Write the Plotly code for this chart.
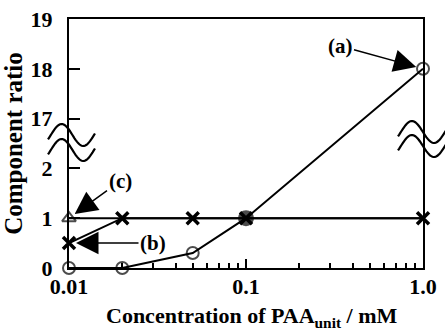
import numpy as np
import plotly.graph_objects as go

# ---- data ----
conc = [0.01, 0.02, 0.05, 0.1, 1.0]
ratio_a = [0, 0, 0.3, 1, 18]
ratio_b = [0.5, 1, 1, 1, 1]
ratio_c = [1, 1, 1, 1, 1]
ytick_vals_real = [0, 1, 2, 17, 18, 19]
xtick_vals = [0.01, 0.1, 1.0]
xtick_text = ["0.01", "0.1", "1.0"]
minor_vals = [0.02, 0.03, 0.04, 0.05, 0.06, 0.07, 0.08, 0.09,
              0.2, 0.3, 0.4, 0.5, 0.6, 0.7, 0.8, 0.9]

BREAK_LO, BREAK_HI = 2, 17   # broken y axis: 17 is drawn at position 3


def ymap(v):
    return v if v <= BREAK_LO else v - (BREAK_HI - BREAK_LO - 1)


FONT = "Liberation Serif"
fig = go.Figure()

fig.add_trace(go.Scatter(
    x=conc, y=[ymap(v) for v in ratio_a], mode="lines+markers",
    line=dict(color="black", width=2),
    marker=dict(symbol=["circle-open"] * 3 + ["circle"] + ["circle-open"],
                size=[12, 12, 12, 14, 12], color="black",
                line=dict(color="black", width=2)),
    cliponaxis=False, showlegend=False))

fig.add_trace(go.Scatter(
    x=conc, y=[ymap(v) for v in ratio_c], mode="lines+markers",
    line=dict(color="black", width=2),
    marker=dict(symbol="triangle-up-open", size=[12, 0, 0, 0, 0], color="black",
                line=dict(color="black", width=2)),
    cliponaxis=False, showlegend=False))

fig.add_trace(go.Scatter(
    x=conc, y=[ymap(v) for v in ratio_b], mode="lines+markers",
    line=dict(color="black", width=2),
    marker=dict(symbol="x-thin", size=12, color="black",
                line=dict(color="black", width=3.5)),
    cliponaxis=False, showlegend=False))

# ---- axis break wavy lines (decoration, paper coords) ----
PW, PH = 354.0, 249.0


def wave(px0, px1, pyc, amp):
    t = np.linspace(0, 1, 40)
    xs = px0 + t * (px1 - px0)
    ys = pyc - amp * np.cos(2 * np.pi * (t - 0.29) / 0.92)
    pts = [((x - 69) / PW, (268 - y) / PH) for x, y in zip(xs, ys)]
    return "M " + " L ".join(f"{a:.4f},{b:.4f}" for a, b in pts)


for (x0, x1, c1, c2) in [(48, 95, 135, 150), (398, 446, 132, 146)]:
    for c in (c1, c2):
        fig.add_shape(type="path", path=wave(x0, x1, c, 11), xref="paper",
                      yref="paper", line=dict(color="black", width=2.2))

# ---- annotations ----
ann_font = dict(family=FONT, size=21, color="black")
arrow = dict(showarrow=True, arrowhead=2, arrowsize=3, arrowwidth=1.5,
             arrowcolor="black", standoff=7)
fig.add_annotation(x=np.log10(1.0), y=ymap(18), text="<b>(a)</b>", ax=-83, ay=-23,
                   font=ann_font, **arrow)
fig.add_annotation(x=np.log10(0.01), y=ymap(0.5), text="<b>(b)</b>", ax=84, ay=0,
                   font=ann_font, **arrow)
fig.add_annotation(x=np.log10(0.01), y=ymap(1), text="<b>(c)</b>", ax=51, ay=-37,
                   font=ann_font, **arrow)

# x-axis title
fig.add_annotation(x=0.517, y=-0.197, xref="paper", yref="paper",
                   text="<b>Concentration of PAA<sub>unit</sub> / mM</b>",
                   showarrow=False, xanchor="center", yanchor="middle",
                   font=dict(family=FONT, size=22, color="black"))

tick_font = dict(family=FONT, size=22, color="black")
fig.update_layout(
    width=445, height=333,
    margin=dict(l=69, r=22, t=19, b=65, autoexpand=False),
    plot_bgcolor="white", paper_bgcolor="white",
    font=dict(family=FONT, color="black"),
    xaxis=dict(type="log", range=[-2, 0], tickvals=xtick_vals,
               ticktext=[f"<b>{t}</b>" for t in xtick_text],
               ticks="inside", ticklen=9, tickwidth=1.5, tickcolor="black",
               minor=dict(tickvals=minor_vals, ticks="inside", ticklen=5,
                          tickwidth=1.5, tickcolor="black"),
               showline=True, linecolor="black", linewidth=2, mirror=True,
               showgrid=False, zeroline=False, tickfont=tick_font,
               ticklabelstandoff=-2, automargin=False),
    yaxis=dict(range=[0, 5], tickvals=[ymap(v) for v in ytick_vals_real],
               ticktext=[f"<b>{v}</b>" for v in ytick_vals_real],
               ticks="inside", ticklen=11, tickwidth=1.5, tickcolor="black",
               showline=True, linecolor="black", linewidth=2, mirror=True,
               showgrid=False, zeroline=False, tickfont=tick_font,
               ticklabelstandoff=10, automargin=False,
               title=dict(text="<b>Component ratio</b>",
                          font=dict(family=FONT, size=25, color="black"),
                          standoff=4)),
)

fig.write_html("out.html")
